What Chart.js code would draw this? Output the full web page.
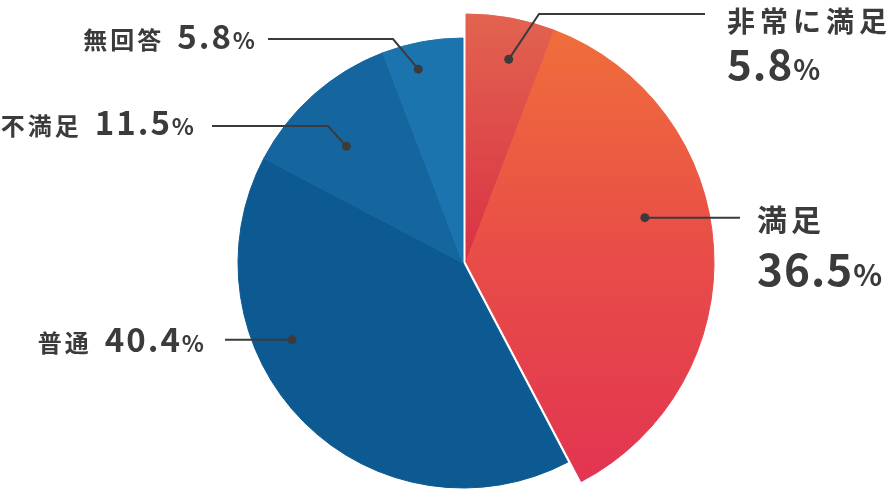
<!DOCTYPE html>
<html>
<head>
<meta charset="utf-8">
<script src="https://cdn.jsdelivr.net/npm/chart.js@4"></script>
<style>
  html, body { margin: 0; padding: 0; background: #fff; }
  canvas { display: block; }
</style>
</head>
<body>
<canvas id="pie" width="896" height="490"></canvas>
<script>
// 満足度アンケート
const categories = ['非常に満足', '満足', '普通', '不満足', '無回答'];
const shares = [5.8, 36.5, 40.4, 11.5, 5.8];

const TEXT = '#3b3b3b';
const FONT = '"Noto Sans CJK JP", "Noto Sans", sans-serif';
const blues = [null, null, '#0c5a91', '#15669e', '#1b74ae'];

// 赤系の2つは少し大きく・ずらして描く
const EXPLODE = { dx: 3, dy: -1, radius: 248 };

function sliceFill(ctx) {
  const i = ctx.dataIndex;
  const chart = ctx.chart;
  if (i === 0) {
    const g = chart.ctx.createLinearGradient(0, 14, 0, 262);
    g.addColorStop(0, '#e2634f');
    g.addColorStop(1, '#d93245');
    return g;
  }
  if (i === 1) {
    const g = chart.ctx.createLinearGradient(0, 40, 0, 480);
    g.addColorStop(0, '#ef6c3b');
    g.addColorStop(0.5, '#e84c48');
    g.addColorStop(1, '#e23551');
    return g;
  }
  return blues[i];
}

// 左側ラベル（カテゴリ + 数値 + %）
const leftRow = [
  { s: 'CAT', size: 24, sp: 3, gap: 13 },
  { s: 'NUM', size: 33, sp: 2 },
  { s: '%', size: 23, sp: 0 }
];

// callout: t = position inside the slice, f = fraction of radius
const callouts = [
  { t: 0.57, f: 0.835, path: [[539, 14], [705, 14]], side: 'right', x: 727, lines: [
      { parts: [{ s: '非常に満足', size: 28, sp: 5 }], y: 32 },
      { parts: [{ s: 'NUM', size: 42, sp: 1 }, { s: '%', size: 28, sp: 0 }], y: 80 } ] },
  { t: 0.42, f: 0.743, path: [['end', 740]], side: 'right', x: 757, lines: [
      { parts: [{ s: '満足', size: 30, sp: 4 }], y: 231 },
      { parts: [{ s: 'NUM', size: 44, sp: 1 }, { s: '%', size: 30, sp: 0 }], y: 286 } ] },
  { t: 0.643, f: 0.833, path: [['end', 225]], side: 'left', x: 204, lines: [{ parts: leftRow, y: 352 }] },
  { t: 0.418, f: 0.733, path: [[328, 126], [212, 126]], side: 'left', x: 194, lines: [{ parts: leftRow, y: 135 }] },
  { t: 0.378, f: 0.884, path: [[393, 39], [268, 39]], side: 'left', x: 255, lines: [{ parts: leftRow, y: 49 }] }
];

function drawRich(ctx, parts, x, y, align) {
  const widths = parts.map(p => {
    ctx.font = `bold ${p.size}px ${FONT}`;
    ctx.letterSpacing = p.sp + 'px';
    return ctx.measureText(p.s).width + (p.gap || 0);
  });
  const total = widths.reduce((a, b) => a + b, 0);
  let cx = align === 'right' ? x - total : x;
  parts.forEach((p, k) => {
    ctx.font = `bold ${p.size}px ${FONT}`;
    ctx.letterSpacing = p.sp + 'px';
    ctx.fillText(p.s, cx, y);
    cx += widths[k];
  });
  ctx.letterSpacing = '0px';
}

const explodePlugin = {
  id: 'explode',
  afterDatasetsUpdate(chart) {
    const meta = chart.getDatasetMeta(0);
    [0, 1].forEach(i => {
      const arc = meta.data[i];
      arc.x += EXPLODE.dx;
      arc.y += EXPLODE.dy;
      arc.outerRadius = EXPLODE.radius;
    });
  }
};

const calloutPlugin = {
  id: 'callouts',
  afterDatasetsDraw(chart) {
    const ctx = chart.ctx;
    const meta = chart.getDatasetMeta(0);
    ctx.save();
    ctx.strokeStyle = TEXT;
    ctx.fillStyle = TEXT;
    ctx.lineWidth = 2;
    ctx.textBaseline = 'alphabetic';
    callouts.forEach((c, i) => {
      const arc = meta.data[i];
      const ang = arc.startAngle + c.t * (arc.endAngle - arc.startAngle);
      const r = c.f * arc.outerRadius;
      const px = arc.x + Math.cos(ang) * r;
      const py = arc.y + Math.sin(ang) * r;

      ctx.beginPath();
      ctx.moveTo(px, py);
      c.path.forEach(pt => {
        if (pt[0] === 'end') ctx.lineTo(pt[1], py);
        else ctx.lineTo(pt[0], pt[1]);
      });
      ctx.stroke();

      ctx.beginPath();
      ctx.arc(px, py, 4.5, 0, Math.PI * 2);
      ctx.fill();

      c.lines.forEach(line => {
        const parts = line.parts.map(p => ({
          ...p,
          s: p.s === 'NUM' ? shares[i].toFixed(1) : p.s === 'CAT' ? categories[i] : p.s
        }));
        drawRich(ctx, parts, c.x, line.y, c.side === 'left' ? 'right' : 'left');
      });
    });
    ctx.restore();
  }
};

new Chart(document.getElementById('pie'), {
  type: 'pie',
  data: {
    labels: categories,
    datasets: [{
      data: shares,
      backgroundColor: sliceFill,
      borderColor: sliceFill,
      borderWidth: 1,
      hoverOffset: 0
    }]
  },
  options: {
    responsive: false,
    animation: false,
    events: [],
    radius: 225,
    layout: { padding: { left: 238, right: 208, top: 38, bottom: 2 } },
    plugins: {
      legend: { display: false },
      tooltip: { enabled: false }
    }
  },
  plugins: [explodePlugin, calloutPlugin]
});
</script>
</body>
</html>
